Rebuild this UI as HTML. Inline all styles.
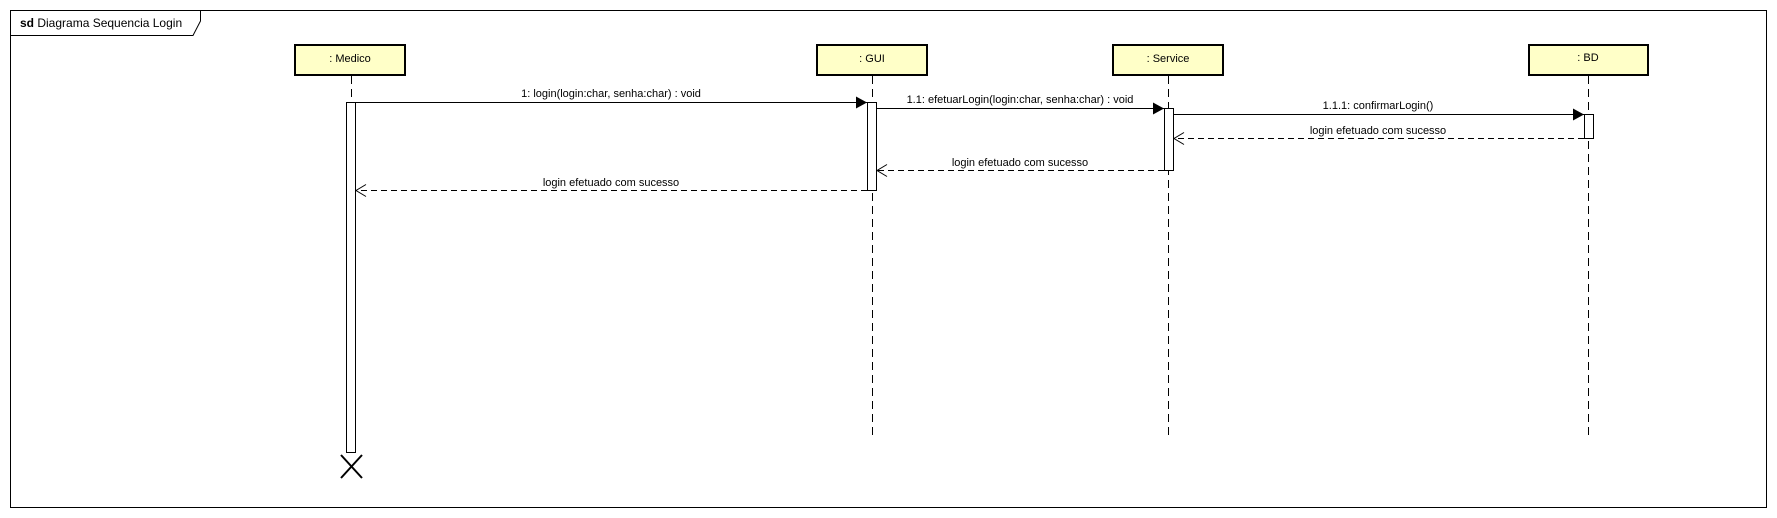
<!DOCTYPE html>
<html><head><meta charset="utf-8"><style>
html,body{margin:0;padding:0;background:#fff;}
svg{display:block;}
text{font-family:"Liberation Sans",Arial,sans-serif;font-size:11px;fill:#000;}
</style></head><body>
<svg width="1777" height="518" viewBox="0 0 1777 518" xmlns="http://www.w3.org/2000/svg">
<defs>
<marker id="f" markerWidth="12" markerHeight="12" refX="11" refY="6" orient="auto" markerUnits="userSpaceOnUse"><path d="M0,0 L11,6 L0,12 z" fill="#000"/></marker>
<marker id="o" markerWidth="12" markerHeight="14" refX="11" refY="7" orient="auto" markerUnits="userSpaceOnUse"><path d="M1,1 L11,7 L1,13" fill="none" stroke="#000" stroke-width="1"/></marker>
</defs>
<rect x="10.5" y="10.5" width="1756" height="497" fill="none" stroke="#000" stroke-width="1"/>
<path d="M10.5,35.5 H193 L200.5,21 V10.5" fill="none" stroke="#000" stroke-width="1"/>
<text x="20" y="27" style="font-size:12px"><tspan font-weight="bold">sd</tspan> Diagrama Sequencia Login</text>

<g stroke="#000" stroke-width="1" stroke-dasharray="8,5" fill="none">
<line x1="351.5" y1="76" x2="351.5" y2="102"/>
<line x1="872.5" y1="76" x2="872.5" y2="440"/>
<line x1="1168.5" y1="76" x2="1168.5" y2="440"/>
<line x1="1588.5" y1="76" x2="1588.5" y2="440"/>
</g>

<g fill="#FFFFC8" stroke="#000" stroke-width="2">
<rect x="295" y="45" width="110" height="30"/>
<rect x="817" y="45" width="110" height="30"/>
<rect x="1113" y="45" width="110" height="30"/>
<rect x="1529" y="45" width="119" height="30"/>
</g>
<text x="350" y="62" text-anchor="middle">: Medico</text>
<text x="872" y="62" text-anchor="middle">: GUI</text>
<text x="1168" y="62" text-anchor="middle">: Service</text>
<text x="1588" y="61" text-anchor="middle">: BD</text>

<g fill="#fff" stroke="#000" stroke-width="1">
<rect x="346.5" y="102.5" width="9" height="350"/>
<rect x="867.5" y="102.5" width="9" height="88"/>
<rect x="1164.5" y="108.5" width="9" height="62"/>
<rect x="1584.5" y="114.5" width="9" height="24"/>
</g>
<path d="M341,455 L362,478 M362,455 L341,478" stroke="#000" stroke-width="2"/>

<g stroke="#000" stroke-width="1" fill="none">
<line x1="356" y1="102.5" x2="867" y2="102.5" marker-end="url(#f)"/>
<line x1="877" y1="108.5" x2="1164" y2="108.5" marker-end="url(#f)"/>
<line x1="1174" y1="114.5" x2="1584" y2="114.5" marker-end="url(#f)"/>
<line x1="1584" y1="138.5" x2="1174" y2="138.5" stroke-dasharray="6,4" marker-end="url(#o)"/>
<line x1="1164" y1="170.5" x2="877" y2="170.5" stroke-dasharray="6,4" marker-end="url(#o)"/>
<line x1="867" y1="190.5" x2="356" y2="190.5" stroke-dasharray="6,4" marker-end="url(#o)"/>
</g>
<text x="611" y="97" text-anchor="middle">1: login(login:char, senha:char) : void</text>
<text x="1020" y="103" text-anchor="middle">1.1: efetuarLogin(login:char, senha:char) : void</text>
<text x="1378" y="109" text-anchor="middle">1.1.1: confirmarLogin()</text>
<text x="1378" y="134" text-anchor="middle">login efetuado com sucesso</text>
<text x="1020" y="166" text-anchor="middle">login efetuado com sucesso</text>
<text x="611" y="186" text-anchor="middle">login efetuado com sucesso</text>
</svg>
</body></html>
